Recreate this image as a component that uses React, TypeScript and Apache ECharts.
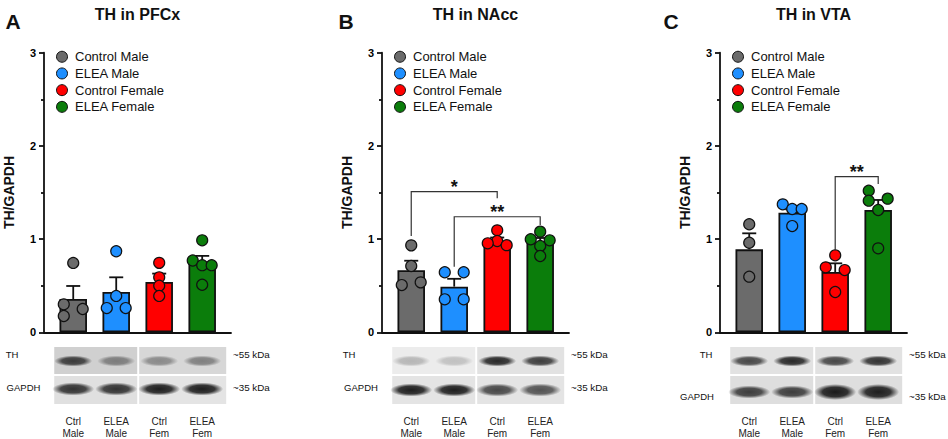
import React, { useEffect, useRef } from "react";
import * as echarts from "echarts";

// ---------- data ----------
const GROUPS = ["Control Male", "ELEA Male", "Control Female", "ELEA Female"];
const LANES = ["Ctrl\nMale", "ELEA\nMale", "Ctrl\nFem", "ELEA\nFem"];
const Y_TICKS = [0, 1, 2, 3];
const LETTERS = ["A", "B", "C"];
const TITLES = ["TH in PFCx", "TH in NAcc", "TH in VTA"];
const Y_NAME = "TH/GAPDH";
const BLOT_ROWS = ["TH", "GAPDH"];
const BLOT_KDA = ["~55 kDa", "~35 kDa"];

// Panel A (PFCx)
const A_MEAN = [0.357, 0.432, 0.54, 0.755];
const A_ERR = [0.497, 0.59, 0.63, 0.82];
const A_PTS = [
  [0.744, 0.3, 0.25, 0.175],
  [0.87, 0.39, 0.26, 0.26],
  [0.745, 0.59, 0.5, 0.39],
  [0.987, 0.77, 0.72, 0.72, 0.51],
];
const A_JIT = [
  [0, -1, 1, -1],
  [0, 0, -1, 1],
  [0, 0, 0, 0],
  [0, -1, 0, 1, 0],
];
const A_SIG: (number | string)[][] = [];
const A_TH_BAND = [0.8, 0.45, 0.4, 0.45];
const A_GAPDH_BAND = [0.85, 0.85, 0.95, 0.95];

// Panel B (NAcc)
const B_MEAN = [0.665, 0.49, 0.966, 0.963];
const B_ERR = [0.768, 0.574, 1.017, 1.012];
const B_PTS = [
  [0.933, 0.711, 0.507, 0.536],
  [0.644, 0.644, 0.354, 0.354],
  [1.094, 0.98, 0.955, 0.935],
  [1.08, 0.998, 0.987, 0.926, 0.819],
];
const B_JIT = [
  [0, 0, -1, 1],
  [-1, 1, -1, 1],
  [0, 0, -1, 1],
  [0, -1, 1, 0, 0],
];
// [fromGroup, toGroup, leftY, topY, rightY, label]
const B_SIG: (number | string)[][] = [
  [1, 3, 1.033, 1.509, 1.438, "*"],
  [2, 4, 0.704, 1.24, 1.151, "**"],
];
const B_TH_BAND = [0.25, 0.2, 0.9, 0.8];
const B_GAPDH_BAND = [0.95, 0.95, 0.75, 0.7];

// Panel C (VTA)
const C_MEAN = [0.89, 1.283, 0.647, 1.312];
const C_ERR = [1.062, 1.32, 0.74, 1.42];
const C_PTS = [
  [1.159, 0.961, 0.597],
  [1.373, 1.323, 1.323, 1.14],
  [0.826, 0.697, 0.668, 0.432],
  [1.519, 1.412, 1.434, 1.312, 0.901],
];
const C_JIT = [
  [0, 0, 0],
  [-1, 0, 1, 0],
  [0, -1, 1, 0],
  [-1, -1, 1, 0, 0],
];
const C_SIG: (number | string)[][] = [[3, 4, 0.876, 1.67, 1.59, "**"]];
const C_TH_BAND = [0.75, 0.9, 0.75, 0.85];
const C_GAPDH_BAND = [0.8, 0.8, 0.97, 0.95];

const PANELS = [
  { mean: A_MEAN, err: A_ERR, pts: A_PTS, jit: A_JIT, sig: A_SIG, th: A_TH_BAND, gapdh: A_GAPDH_BAND },
  { mean: B_MEAN, err: B_ERR, pts: B_PTS, jit: B_JIT, sig: B_SIG, th: B_TH_BAND, gapdh: B_GAPDH_BAND },
  { mean: C_MEAN, err: C_ERR, pts: C_PTS, jit: C_JIT, sig: C_SIG, th: C_TH_BAND, gapdh: C_GAPDH_BAND },
];

// ---------- styles / layout ----------
const COLORS = ["#6b6b6b", "#1e8fff", "#ff0000", "#0b7d0b"];
const INK = "#111111";
const FONT = '"Liberation Sans", Arial, Helvetica, sans-serif';
const AXIS_X = [44, 382, 720];
const LETTER_X = [13, 346, 671];
const PLOT_TOP = 52.7;
const PLOT_H = 279.6;
const PLOT_W = 187;
const X_MIN = 0.32;
const X_MAX = 4.67;
const JITTER_STEP = 0.22;
const TH_LABEL_DX = [-32, -33, -14];
const GAPDH_LABEL_DX = [-20.5, -21, -23];
const GAPDH_LABEL_Y = [387.5, 387.5, 396.5];
const GAPDH_BAND_Y = [389, 390, 392];
const BLOT_BG = [
  ["#d0d0d0", "#d7d7d7", "#e0e0e0", "#e4e4e4"],
  ["#ececec", "#e2e2e2", "#e4e4e4", "#e4e4e4"],
  ["#e2e2e2", "#e2e2e2", "#dedede", "#dedede"],
];

function buildOption() {
  const series: any[] = [];
  PANELS.forEach((p, i) => {
    series.push({
      type: "bar",
      xAxisIndex: i,
      yAxisIndex: i,
      barWidth: 27.5,
      silent: true,
      z: 2,
      itemStyle: { borderColor: INK, borderWidth: 1.8 },
      data: p.mean.map((m, k) => ({ value: [k + 1, m], itemStyle: { color: COLORS[k] } })),
    });
    series.push({
      type: "custom",
      xAxisIndex: i,
      yAxisIndex: i,
      silent: true,
      z: 3,
      encode: { x: 0, y: [1, 2] },
      data: p.mean.map((m, k) => [k + 1, m, p.err[k]]),
      renderItem: (_params: any, api: any) => {
        const x = api.value(0);
        const a = api.coord([x, api.value(1)]);
        const b = api.coord([x, api.value(2)]);
        return {
          type: "group",
          children: [
            { type: "line", shape: { x1: a[0], y1: a[1], x2: b[0], y2: b[1] }, style: { stroke: INK, lineWidth: 1.8 } },
            { type: "line", shape: { x1: b[0] - 7, y1: b[1], x2: b[0] + 7, y2: b[1] }, style: { stroke: INK, lineWidth: 1.8 } },
          ],
        };
      },
    });
    p.pts.forEach((vals, k) => {
      series.push({
        type: "scatter",
        name: GROUPS[k],
        xAxisIndex: i,
        yAxisIndex: i,
        silent: true,
        z: 4,
        symbol: "circle",
        symbolSize: 11,
        itemStyle: { color: COLORS[k], borderColor: INK, borderWidth: 1.2, opacity: 1 },
        data: vals.map((v, j) => [k + 1 + p.jit[k][j] * JITTER_STEP, v]),
      });
    });
    if (p.sig.length) {
      const sig = p.sig;
      series.push({
        type: "custom",
        xAxisIndex: i,
        yAxisIndex: i,
        silent: true,
        z: 5,
        encode: { x: [0, 1], y: [2, 3, 4] },
        data: sig.map((s) => [s[0], s[1], s[2], s[3], s[4]]),
        renderItem: (params: any, api: any) => {
          const from = api.value(0);
          const to = api.value(1);
          const a = api.coord([from, api.value(2)]);
          const b = api.coord([from, api.value(3)]);
          const c = api.coord([to, api.value(3)]);
          const d = api.coord([to, api.value(4)]);
          const label = String(sig[params.dataIndex][5]);
          return {
            type: "group",
            children: [
              {
                type: "polyline",
                shape: { points: [a, b, c, d] },
                style: { stroke: "#333", lineWidth: 1.2, fill: "none" },
              },
              {
                type: "text",
                style: {
                  text: label,
                  x: (b[0] + c[0]) / 2,
                  y: b[1] - 5,
                  align: "center",
                  verticalAlign: "middle",
                  textAlign: "center",
                  textVerticalAlign: "middle",
                  font: `bold 18px ${FONT}`,
                  fill: INK,
                },
              },
            ],
          };
        },
      });
    }
  });

  return {
    animation: false,
    backgroundColor: "#ffffff",
    textStyle: { fontFamily: FONT },
    grid: AXIS_X.map((l) => ({
      left: l,
      top: PLOT_TOP,
      width: PLOT_W,
      height: PLOT_H,
      containLabel: false,
      outerBoundsMode: "none",
    })),
    xAxis: AXIS_X.map((_, i) => ({
      type: "value",
      gridIndex: i,
      min: X_MIN,
      max: X_MAX,
      axisLine: { show: true, onZero: false, lineStyle: { color: INK, width: 1.8 } },
      axisTick: { show: false },
      axisLabel: { show: false },
      splitLine: { show: false },
    })),
    yAxis: AXIS_X.map((_, i) => ({
      type: "value",
      gridIndex: i,
      min: Y_TICKS[0],
      max: Y_TICKS[Y_TICKS.length - 1],
      interval: 1,
      name: Y_NAME,
      nameLocation: "middle",
      nameRotate: 90,
      nameGap: 28,
      nameTextStyle: { fontWeight: "bold", fontSize: 14, color: INK, fontFamily: FONT },
      axisLine: { show: true, onZero: false, lineStyle: { color: INK, width: 1.8 } },
      axisTick: { show: true, length: 5, lineStyle: { color: INK, width: 1.8 } },
      minorTick: { show: true, splitNumber: 2, length: 3, lineStyle: { color: INK, width: 1.8 } },
      axisLabel: { show: true, fontWeight: "bold", fontSize: 11, color: "#000", margin: 8, fontFamily: FONT },
      splitLine: { show: false },
      minorSplitLine: { show: false },
    })),
    legend: AXIS_X.map((l) => ({
      data: GROUPS,
      orient: "vertical",
      left: l + 12,
      top: 48.4,
      icon: "circle",
      itemWidth: 16,
      itemHeight: 11,
      itemGap: 0,
      padding: 0,
      selectedMode: false,
      itemStyle: { borderColor: INK, borderWidth: 1 },
      textStyle: { fontSize: 13, color: "#111", fontFamily: FONT, lineHeight: 16.7 },
    })),
    series,
  };
}

function band(cx: number, cy: number, rx: number, ry: number, a: number) {
  return {
    type: "ellipse",
    silent: true,
    shape: { cx, cy, rx, ry },
    style: {
      fill: {
        type: "radial",
        x: 0.5,
        y: 0.5,
        r: 0.5,
        colorStops: [
          { offset: 0, color: `rgba(20,20,20,${a})` },
          { offset: 0.6, color: `rgba(20,20,20,${(a * 0.88).toFixed(3)})` },
          { offset: 1, color: "rgba(20,20,20,0)" },
        ],
      },
    },
  };
}

function txt(text: string, x: number, y: number, font: string, align = "center", extra: any = {}) {
  return {
    type: "text",
    silent: true,
    style: {
      text,
      x,
      y,
      font,
      fill: INK,
      align,
      verticalAlign: "middle",
      textAlign: align,
      textVerticalAlign: "middle",
      ...extra,
    },
  };
}

function buildGraphics(chart: any) {
  const els: any[] = [];
  PANELS.forEach((p, i) => {
    const c = [1, 2, 3, 4].map((v) => chart.convertToPixel({ xAxisIndex: i }, v) as number);
    const x0 = chart.convertToPixel({ xAxisIndex: i }, X_MIN) as number;
    const x1 = chart.convertToPixel({ xAxisIndex: i }, X_MAX) as number;
    // letter + title
    els.push(txt(LETTERS[i], LETTER_X[i], 21, `bold 21px ${FONT}`));
    els.push(txt(TITLES[i], (x0 + x1) / 2, 14, `bold 16px ${FONT}`));
    // blot backgrounds
    const rows = [
      [347, 27],
      [376, 28],
    ];
    rows.forEach(([top, h], r) => {
      els.push({
        type: "rect",
        silent: true,
        shape: { x: c[0] - 19, y: top, width: c[1] + 21 - (c[0] - 19), height: h },
        style: { fill: BLOT_BG[i][r * 2] },
      });
      els.push({
        type: "rect",
        silent: true,
        shape: { x: c[2] - 20, y: top, width: c[3] + 24 - (c[2] - 20), height: h },
        style: { fill: BLOT_BG[i][r * 2 + 1] },
      });
    });
    // bands
    p.th.forEach((a, k) => els.push(band(c[k], 361, 19, 5.5, a)));
    p.gapdh.forEach((a, k) => {
      const big = i === 2 && k >= 2;
      els.push(band(c[k], GAPDH_BAND_Y[i], 21, big ? 8 : 6.5, a));
    });
    // row labels
    els.push(txt(BLOT_ROWS[0], AXIS_X[i] + TH_LABEL_DX[i], 354, `9.5px ${FONT}`));
    els.push(txt(BLOT_ROWS[1], AXIS_X[i] + GAPDH_LABEL_DX[i], GAPDH_LABEL_Y[i], `9.5px ${FONT}`));
    els.push(txt(BLOT_KDA[0], AXIS_X[i] + 189, 354, `9.8px ${FONT}`, "left"));
    els.push(txt(BLOT_KDA[1], AXIS_X[i] + 189, GAPDH_LABEL_Y[i], `9.8px ${FONT}`, "left"));
    // lane labels
    LANES.forEach((lab, k) =>
      els.push(txt(lab, c[k], 427.5, `10px ${FONT}`, "center", { lineHeight: 11.6, fill: "#222" }))
    );
  });
  return els;
}

export default function App() {
  const ref = useRef<HTMLDivElement>(null);
  useEffect(() => {
    if (!ref.current) return;
    const chart = echarts.init(ref.current, null, { renderer: "svg" });
    chart.setOption(buildOption() as any);
    chart.setOption({ graphic: { elements: buildGraphics(chart) } } as any);
    return () => chart.dispose();
  }, []);
  return (
    <div
      ref={ref}
      style={{ position: "fixed", left: 0, top: 0, width: 948, height: 439, background: "#ffffff" }}
    />
  );
}
